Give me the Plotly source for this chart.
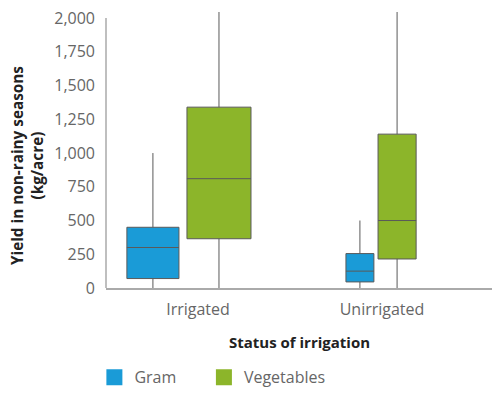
import plotly.graph_objects as go

# ---- data ----
CATEGORIES = ["Irrigated", "Unirrigated"]
SERIES = ["Gram", "Vegetables"]

GRAM_LOWER = [0, 0]
GRAM_Q1 = [70, 45]
GRAM_MEDIAN = [300, 125]
GRAM_Q3 = [450, 255]
GRAM_UPPER = [1000, 500]

VEG_LOWER = [0, 0]
VEG_Q1 = [365, 215]
VEG_MEDIAN = [810, 500]
VEG_Q3 = [1340, 1140]
VEG_UPPER = [2150, 2150]  # whiskers run past the top of the axis

Y_TICKS = [0, 250, 500, 750, 1000, 1250, 1500, 1750, 2000]

# ---- style ----
COLORS = {"Gram": "#1a9bd7", "Vegetables": "#8cb52a"}
LEGENDS = {"Gram": "legend", "Vegetables": "legend2"}
# dodge offsets and box widths (category units), per category
OFFSETS = {"Gram": [-0.245, -0.120], "Vegetables": [0.114, 0.082]}
WIDTHS = {"Gram": [0.283, 0.152], "Vegetables": [0.348, 0.207]}
FONT = "Open Sans"
TICK_COLOR = "#666666"

stats = {
    "Gram": (GRAM_LOWER, GRAM_Q1, GRAM_MEDIAN, GRAM_Q3, GRAM_UPPER),
    "Vegetables": (VEG_LOWER, VEG_Q1, VEG_MEDIAN, VEG_Q3, VEG_UPPER),
}

fig = go.Figure()
for s in SERIES:
    lo, q1, med, q3, up = stats[s]
    for i, cat in enumerate(CATEGORIES):
        fig.add_trace(go.Box(
            x=[i + OFFSETS[s][i]],
            lowerfence=[lo[i]], q1=[q1[i]], median=[med[i]],
            q3=[q3[i]], upperfence=[up[i]],
            width=WIDTHS[s][i],
            fillcolor=COLORS[s],
            line=dict(color="#5a5a5a", width=1),
            whiskerwidth=0,
            name=s, legendgroup=s, showlegend=False,
            hoverinfo="skip",
        ))
    # legend entry
    fig.add_trace(go.Scatter(
        x=[None], y=[None], mode="markers", name=s, legendgroup=s,
        legend=LEGENDS[s],
        marker=dict(symbol="square", size=17, color=COLORS[s]),
    ))

legend_style = dict(
    orientation="h", xanchor="left", y=-0.262, yanchor="top",
    font=dict(family=FONT, size=16, color=TICK_COLOR),
    bgcolor="rgba(0,0,0,0)",
)

# The page body has an 8px margin, so the figure is 8px smaller and
# everything is laid out 8px up/left of the target positions.
fig.update_layout(
    width=492, height=387,
    margin=dict(l=98, r=7, t=4, b=107, autoexpand=False),
    paper_bgcolor="white", plot_bgcolor="white",
    font=dict(family=FONT, size=16, color=TICK_COLOR),
    boxmode="overlay",
    showlegend=True,
    legend=dict(x=-0.03, **legend_style),
    legend2=dict(x=0.253, **legend_style),
    xaxis=dict(
        range=[-0.5, -0.5 + 387 / 184],
        tickmode="array",
        tickvals=list(range(len(CATEGORIES))),
        ticktext=CATEGORIES,
        showline=True, linecolor="#aaaaaa", linewidth=1.5,
        showgrid=False, zeroline=False, ticks="", automargin=False,
        ticklabelstandoff=6, ticklabeloverflow="allow",
        tickfont=dict(family=FONT, size=16, color=TICK_COLOR),
        title=dict(text="<b>Status of irrigation</b>", standoff=19,
                   font=dict(family=FONT, size=15, color="#222222")),
    ),
    yaxis=dict(
        range=[0, 2045],
        tickmode="array", tickvals=Y_TICKS, tickformat=",",
        showline=False, showgrid=False, zeroline=False, ticks="",
        automargin=False, ticklabelstandoff=10, ticklabeloverflow="allow",
        tickfont=dict(family=FONT, size=16, color=TICK_COLOR),
    ),
    shapes=[dict(type="line", xref="paper", yref="y", x0=0, x1=0,
                 y0=0, y1=2000, line=dict(color="#aaaaaa", width=1.5),
                 layer="below")],
    annotations=[dict(
        text="<b>Yield in non-rainy seasons<br>(kg/acre)</b>",
        xref="paper", yref="paper", x=-0.204, y=0.442,
        xanchor="center", yanchor="middle", textangle=-90, showarrow=False,
        font=dict(family=FONT, size=15.3, color="#222222"),
    )],
)

fig.write_html("out.html")
